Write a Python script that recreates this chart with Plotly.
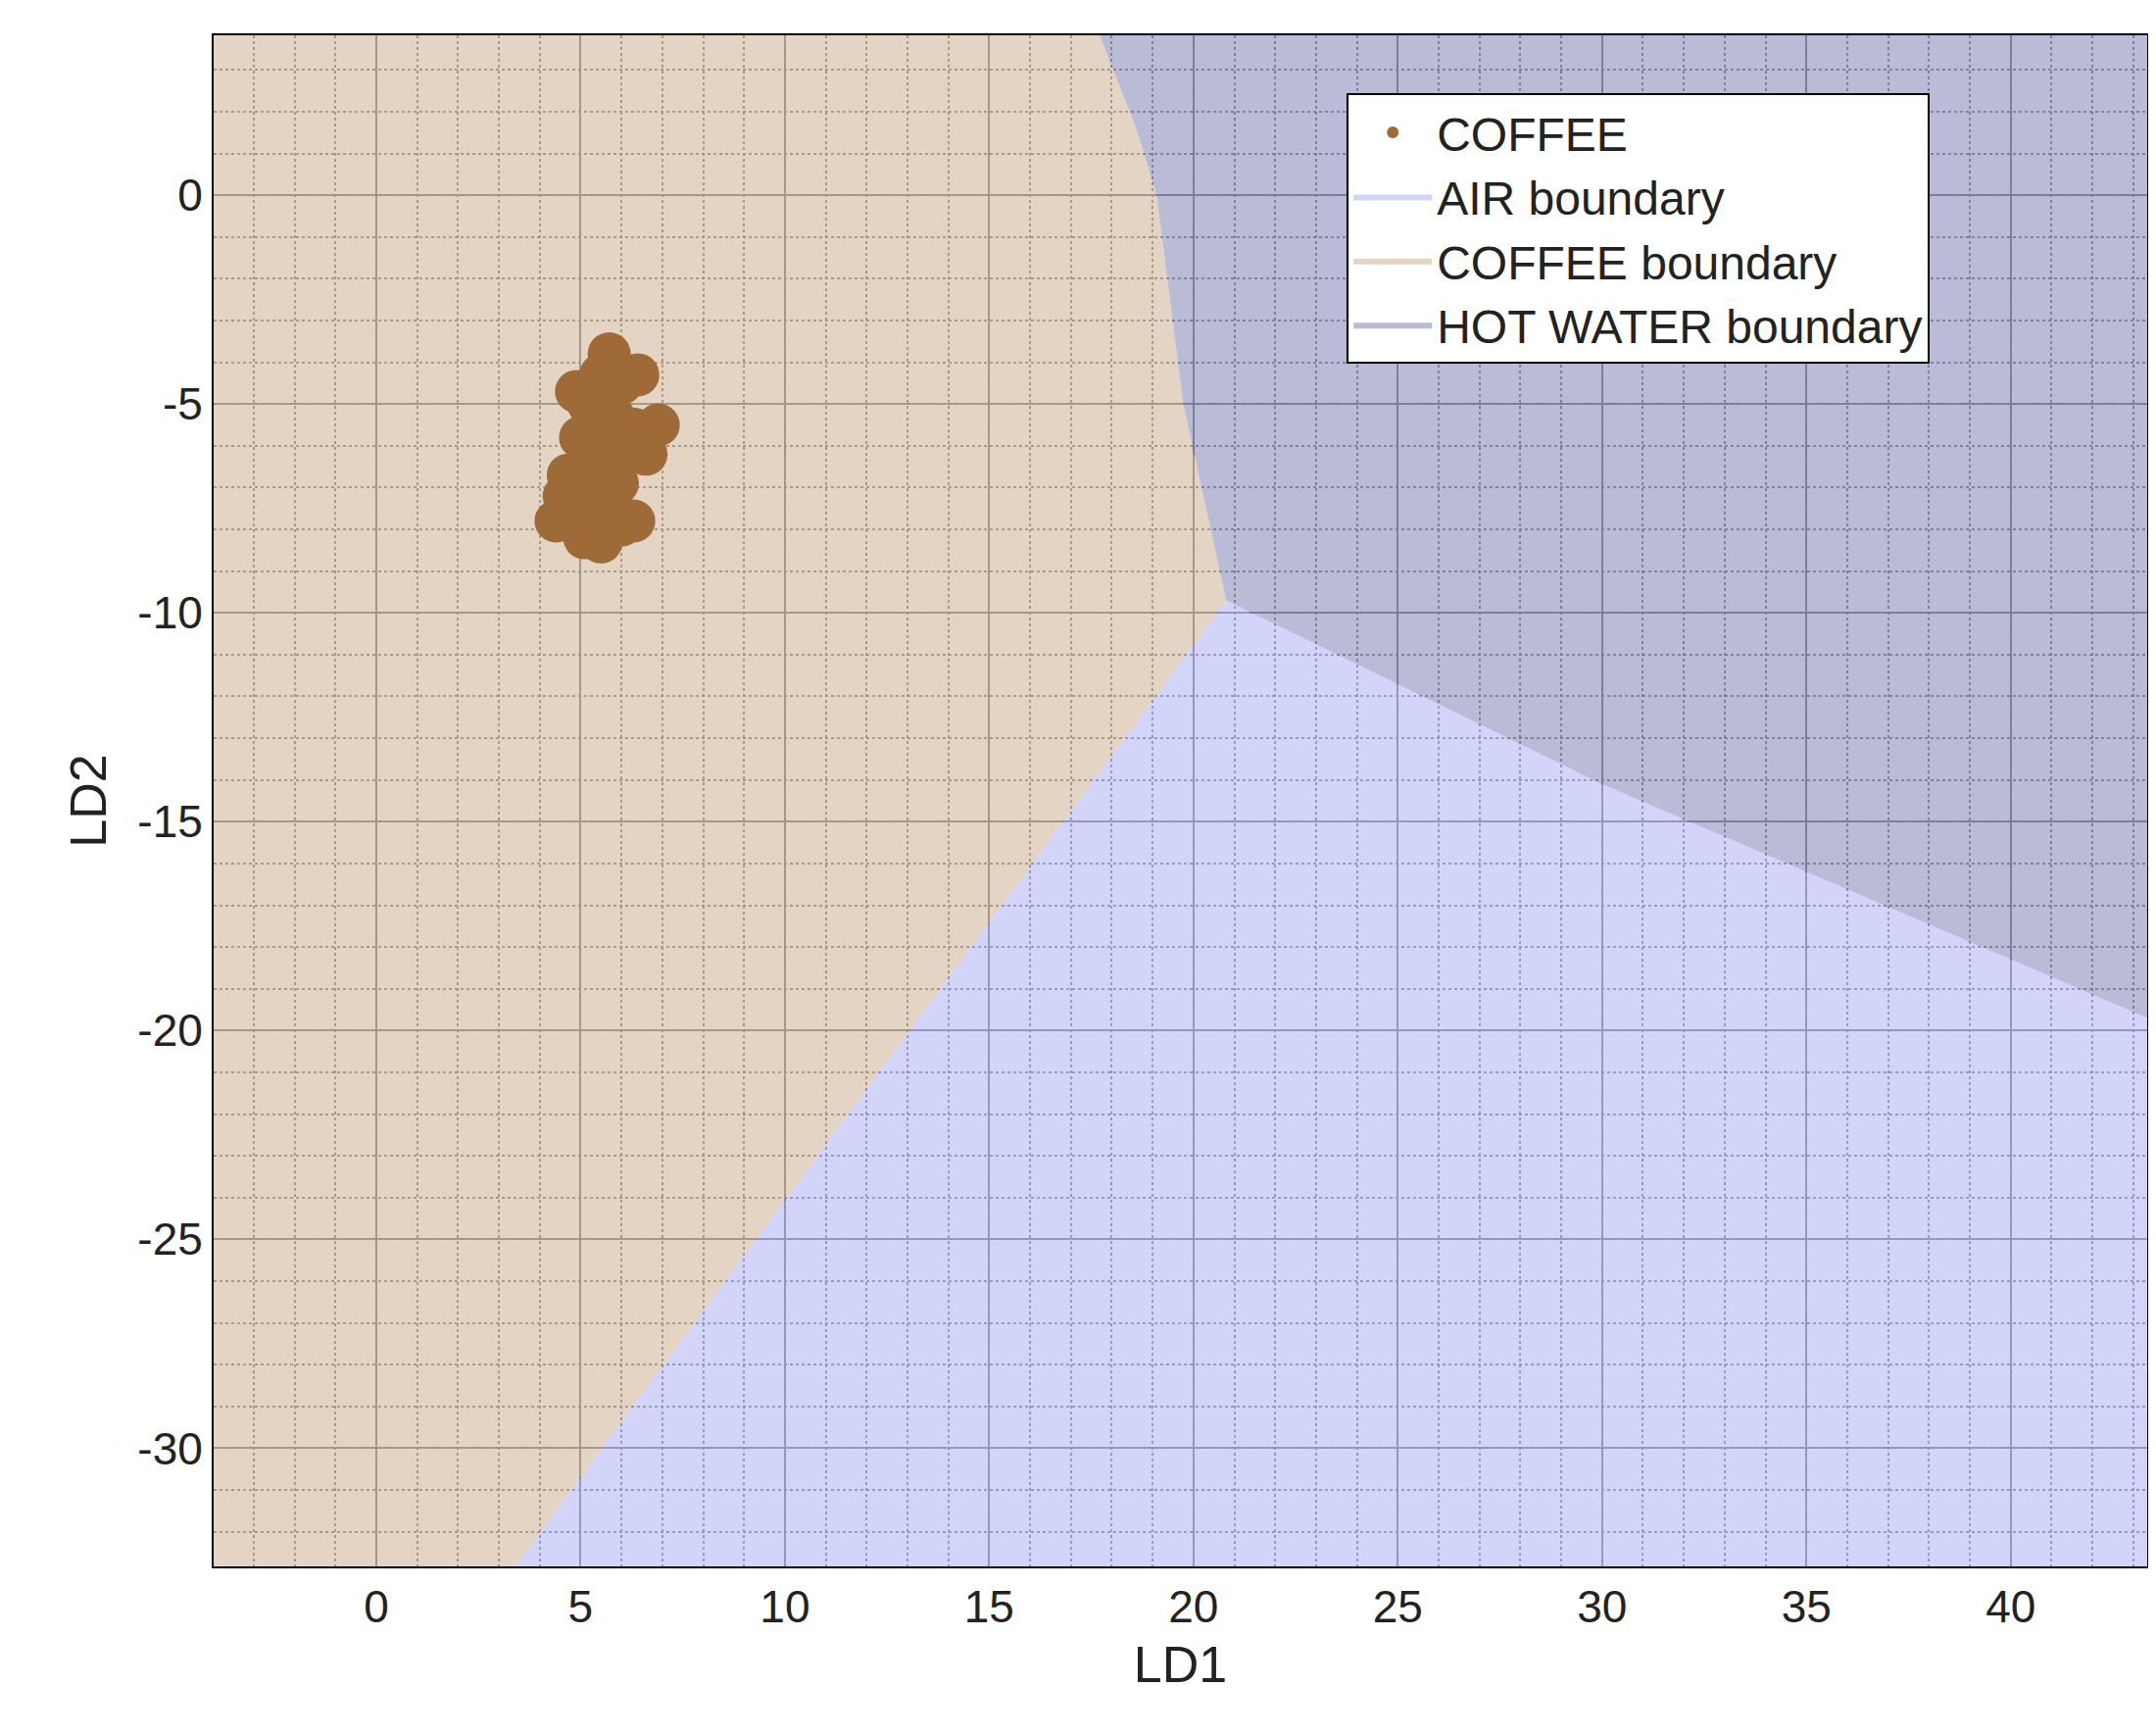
import plotly.graph_objects as go

X_MIN, X_MAX = -3.98, 43.34
Y_MIN, Y_MAX = -32.83, 3.83

# decision region polygons (LD1, LD2)
coffee_x = [X_MIN, 17.7, 18.6, 19.1, 19.75, 20.8, 3.4, X_MIN]
coffee_y = [Y_MAX, Y_MAX, 1.6, 0.0, -5.0, -9.7, Y_MIN, Y_MIN]
air_x = [20.8, 30.0, 43.34, X_MAX, 3.4]
air_y = [-9.7, -14.1, -19.7, Y_MIN, Y_MIN]
hot_x = [17.7, X_MAX, X_MAX, 30.0, 20.8, 19.75, 19.1, 18.6]
hot_y = [Y_MAX, Y_MAX, -19.7, -14.1, -9.7, -5.0, 0.0, 1.6]

# coffee samples
coffee_ld1 = [5.7, 5.5, 6.0, 6.4, 4.9, 5.2, 5.8, 6.9, 6.3, 5.0, 5.4, 6.1, 6.6, 4.7,
              5.3, 5.9, 4.6, 4.4, 5.0, 5.6, 6.3, 5.1, 5.5, 6.0]
coffee_ld2 = [-3.8, -4.3, -4.5, -4.3, -4.7, -5.0, -5.3, -5.5, -5.6, -5.8, -6.0, -6.2,
              -6.2, -6.7, -6.8, -6.9, -7.2, -7.8, -7.8, -7.5, -7.8, -8.2, -8.3, -7.9]

x_ticks = [0, 5, 10, 15, 20, 25, 30, 35, 40]
y_ticks = [0, -5, -10, -15, -20, -25, -30]

fig = go.Figure()
fig.add_trace(go.Scatter(x=air_x, y=air_y, fill='toself', mode='lines', name='AIR boundary',
                         fillcolor='rgba(195,198,248,0.75)', line=dict(width=0), legendrank=2))
fig.add_trace(go.Scatter(x=coffee_x, y=coffee_y, fill='toself', mode='lines', name='COFFEE boundary',
                         fillcolor='rgba(218,198,176,0.75)', line=dict(width=0), legendrank=3))
fig.add_trace(go.Scatter(x=hot_x, y=hot_y, fill='toself', mode='lines', name='HOT WATER boundary',
                         fillcolor='rgba(163,164,200,0.75)', line=dict(width=0), legendrank=4))
fig.add_trace(go.Scatter(x=coffee_ld1, y=coffee_ld2, mode='markers', name='COFFEE', legendrank=1,
                         marker=dict(color='#9e6b38', size=44, line=dict(width=0))))

axis_common = dict(showline=True, linecolor='black', linewidth=2, mirror=True,
                   ticks='', zeroline=False,
                   showgrid=True, gridcolor='rgba(0,0,0,0.9)', gridwidth=2,
                   layer='above traces', tickfont=dict(size=46, color='#222'),
                   minor=dict(dtick=1, showgrid=True, griddash='dot',
                              gridcolor='rgba(0,0,0,0.9)', gridwidth=2))
fig.update_xaxes(range=[X_MIN, X_MAX], tickvals=x_ticks, ticktext=[str(v) for v in x_ticks],
                 title=dict(text='LD1', font=dict(size=52)), **axis_common)
fig.update_yaxes(range=[Y_MIN, Y_MAX], tickvals=y_ticks, ticktext=[str(v) for v in y_ticks],
                 title=dict(text='LD2', font=dict(size=52)), **axis_common)
fig.update_layout(
    width=2200, height=1770,
    margin=dict(l=210, r=17, t=28, b=180),
    plot_bgcolor='white', paper_bgcolor='white',
    font=dict(family='Liberation Sans, Arial', color='#222'),
    legend=dict(x=0.586, y=0.962, xanchor='left', yanchor='top', bgcolor='white',
                bordercolor='black', borderwidth=2, font=dict(size=48),
                itemsizing='constant', itemwidth=80),
)
fig.write_html("out.html")
